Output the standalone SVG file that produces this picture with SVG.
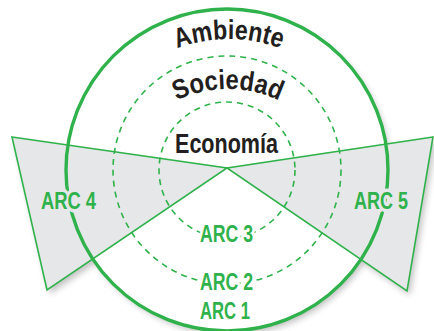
<svg xmlns="http://www.w3.org/2000/svg" width="434" height="331" viewBox="0 0 434 331">
  <style>
    .wedge { fill: #e6e7e8; stroke: #2fb24b; stroke-width: 1.6; stroke-linejoin: miter; }
    .outer { fill: none; stroke: #2fb24b; stroke-width: 3.4; }
    .dash { fill: none; stroke: #2fb24b; stroke-width: 1.6; stroke-dasharray: 6 5; }
    .title { font-family: "Liberation Sans", Arial, sans-serif; font-weight: bold; fill: #231f20; font-size: 27.5px; }
    .arc { font-family: "Liberation Sans", Arial, sans-serif; font-weight: bold; fill: #2fb24b; font-size: 23.5px; paint-order: stroke; stroke-width: 7; stroke-linejoin: round; }
    .ongray { stroke: #e6e7e8; }
    .onwhite { stroke: #ffffff; }
  </style>
  <defs>
    <filter id="blur" x="-20%" y="-20%" width="140%" height="140%">
      <feGaussianBlur stdDeviation="3"/>
    </filter>
    <path id="pathAmb" d="M 84,184 A 145 145 0 0 1 374,184"/>
    <path id="pathSoc" d="M 108,209 A 120 120 0 0 1 348,209"/>
  </defs>
  <rect width="434" height="331" fill="#ffffff"/>
  <g id="shadows" filter="url(#blur)" opacity="0.35" fill="#555" transform="translate(3,4)">
    <polygon points="12,137 227,168 47,290"/>
    <polygon points="433,137 227,168 407,291"/>
    <circle cx="227" cy="170" r="161"/>
  </g>
  <circle cx="227" cy="170" r="161" fill="#ffffff"/>
  <g id="arc4-wedge"><polygon class="wedge" points="12,137 227,168 47,290"/></g>
  <g id="arc5-wedge"><polygon class="wedge" points="433,137 227,168 407,291"/></g>
  <g id="rings">
    <circle id="ambiente-ring" class="outer" cx="227" cy="170" r="161"/>
    <circle id="sociedad-ring" class="dash" cx="227" cy="170" r="114"/>
    <circle id="economia-ring" class="dash" cx="227" cy="170" r="68"/>
  </g>
  <g id="labels">
    <text class="title" textLength="106" lengthAdjust="spacingAndGlyphs"><textPath href="#pathAmb" startOffset="50%" text-anchor="middle">Ambiente</textPath></text>
    <text class="title" textLength="106" lengthAdjust="spacingAndGlyphs"><textPath href="#pathSoc" startOffset="50%" text-anchor="middle">Sociedad</textPath></text>
    <text class="title" x="175" y="152.5" textLength="103" lengthAdjust="spacingAndGlyphs">Economía</text>
    <text class="arc ongray" x="41" y="209" textLength="55" lengthAdjust="spacingAndGlyphs">ARC 4</text>
    <text class="arc ongray" x="354" y="209" textLength="54" lengthAdjust="spacingAndGlyphs">ARC 5</text>
    <text class="arc onwhite" x="200" y="242" textLength="53" lengthAdjust="spacingAndGlyphs">ARC 3</text>
    <text class="arc onwhite" x="200" y="290" textLength="53" lengthAdjust="spacingAndGlyphs">ARC 2</text>
    <text class="arc onwhite" x="200" y="319" textLength="50" lengthAdjust="spacingAndGlyphs">ARC 1</text>
  </g>
</svg>
